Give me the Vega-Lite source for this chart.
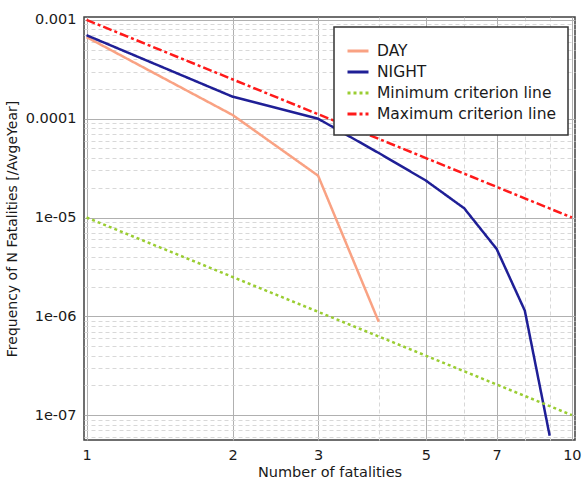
{
  "$schema": "https://vega.github.io/schema/vega-lite/v6.json",
  "width": 491,
  "height": 423,
  "padding": {"left": 5, "top": 11, "right": 8, "bottom": 0},
  "background": "white",
  "config": {
    "view": {"stroke": "#404040", "strokeWidth": 1.5},
    "font": "DejaVu Sans",
    "legend": {
      "orient": "none",
      "legendX": 250,
      "legendY": 10,
      "padding": 12,
      "fillColor": "white",
      "strokeColor": "#333333",
      "strokeWidth": 1.5,
      "labelFontSize": 15.5,
      "labelLimit": 400,
      "labelColor": "#1a1a1a",
      "labelFont": "DejaVu Sans",
      "symbolType": "stroke",
      "symbolSize": 441,
      "symbolStrokeWidth": 3,
      "rowPadding": 0,
      "labelOffset": 7,
      "title": null
    }
  },
  "data": {
    "values": [
      {"series": "DAY", "N": 1, "freq": 0.00067},
      {"series": "DAY", "N": 2, "freq": 0.000109},
      {"series": "DAY", "N": 3, "freq": 0.0000265},
      {"series": "DAY", "N": 4, "freq": 0.00000088},
      {"series": "NIGHT", "N": 1, "freq": 0.0007},
      {"series": "NIGHT", "N": 2, "freq": 0.000167},
      {"series": "NIGHT", "N": 3, "freq": 0.0001},
      {"series": "NIGHT", "N": 4, "freq": 0.000045},
      {"series": "NIGHT", "N": 5, "freq": 0.0000237},
      {"series": "NIGHT", "N": 6, "freq": 0.0000124},
      {"series": "NIGHT", "N": 7, "freq": 0.0000048},
      {"series": "NIGHT", "N": 8, "freq": 0.00000114},
      {"series": "NIGHT", "N": 9, "freq": 0.000000062},
      {"series": "Minimum criterion line", "N": 1, "freq": 0.00001},
      {"series": "Minimum criterion line", "N": 10, "freq": 0.0000001},
      {"series": "Maximum criterion line", "N": 1, "freq": 0.001},
      {"series": "Maximum criterion line", "N": 10, "freq": 0.00001}
    ]
  },
  "mark": {"type": "line", "strokeWidth": 2.5, "clip": true},
  "encoding": {
    "x": {
      "field": "N",
      "type": "quantitative",
      "scale": {"type": "log", "domain": [0.988, 10.15], "nice": false},
      "axis": {
        "title": "Number of fatalities",
        "titleFontSize": 14.5,
        "titleFontWeight": "normal",
        "titleColor": "#1a1a1a",
        "titlePadding": 4,
        "values": [1, 2, 3, 4, 5, 6, 7, 8, 9, 10],
        "labelExpr": "(datum.value == 4 || datum.value == 6 || datum.value == 8 || datum.value == 9) ? '' : datum.label",
        "labelFontSize": 14.5,
        "labelColor": "#1a1a1a",
        "labelPadding": 8,
        "labelFlush": false,
        "labelOverlap": false,
        "ticks": false,
        "domain": false,
        "grid": true,
        "gridColor": {"condition": {"test": "datum.value == 4 || datum.value == 6 || datum.value == 8 || datum.value == 9", "value": "#d8d8d8"}, "value": "#b0b0b0"},
        "gridDash": {"condition": {"test": "datum.value == 4 || datum.value == 6 || datum.value == 8 || datum.value == 9", "value": [4, 3]}, "value": []},
        "gridWidth": 1,
        "gridOpacity": 1
      }
    },
    "y": {
      "field": "freq",
      "type": "quantitative",
      "scale": {"type": "log", "domain": [0.000000056, 0.00107], "nice": false},
      "axis": {
        "title": "Frequency of N Fatalities [/AvgeYear]",
        "titleFontSize": 14,
        "titleFontWeight": "normal",
        "titleColor": "#1a1a1a",
        "titlePadding": 6,
        "values": [6e-8, 7e-8, 8e-8, 9e-8, 1e-7, 2e-7, 3e-7, 4e-7, 5e-7, 6e-7, 7e-7, 8e-7, 9e-7, 1e-6, 2e-6, 3e-6, 4e-6, 5e-6, 6e-6, 7e-6, 8e-6, 9e-6, 1e-5, 2e-5, 3e-5, 4e-5, 5e-5, 6e-5, 7e-5, 8e-5, 9e-5, 1e-4, 2e-4, 3e-4, 4e-4, 5e-4, 6e-4, 7e-4, 8e-4, 9e-4, 1e-3],
        "labelExpr": "abs(log(datum.value)/LN10 - round(log(datum.value)/LN10)) > 0.001 ? '' : (round(log(datum.value)/LN10) == -3 ? '0.001' : (round(log(datum.value)/LN10) == -4 ? '0.0001' : '1e-0' + (-round(log(datum.value)/LN10))))",
        "labelFontSize": 14.5,
        "labelColor": "#1a1a1a",
        "labelPadding": 8,
        "labelOverlap": false,
        "labelFlush": false,
        "ticks": false,
        "domain": false,
        "grid": true,
        "gridColor": {"condition": {"test": "abs(log(datum.value)/LN10 - round(log(datum.value)/LN10)) > 0.001", "value": "#d8d8d8"}, "value": "#b0b0b0"},
        "gridDash": {"condition": {"test": "abs(log(datum.value)/LN10 - round(log(datum.value)/LN10)) > 0.001", "value": [4, 3]}, "value": []},
        "gridWidth": 1,
        "gridOpacity": 1
      }
    },
    "color": {
      "field": "series",
      "type": "nominal",
      "scale": {
        "domain": ["DAY", "NIGHT", "Minimum criterion line", "Maximum criterion line"],
        "range": ["#f9a283", "#1f1f96", "#9acd32", "#ff1a1a"]
      },
      "legend": {"title": null}
    },
    "strokeDash": {
      "field": "series",
      "type": "nominal",
      "scale": {
        "domain": ["DAY", "NIGHT", "Minimum criterion line", "Maximum criterion line"],
        "range": [[1, 0], [1, 0], [3, 3], [9, 3, 3, 3]]
      },
      "legend": {"title": null}
    }
  }
}
